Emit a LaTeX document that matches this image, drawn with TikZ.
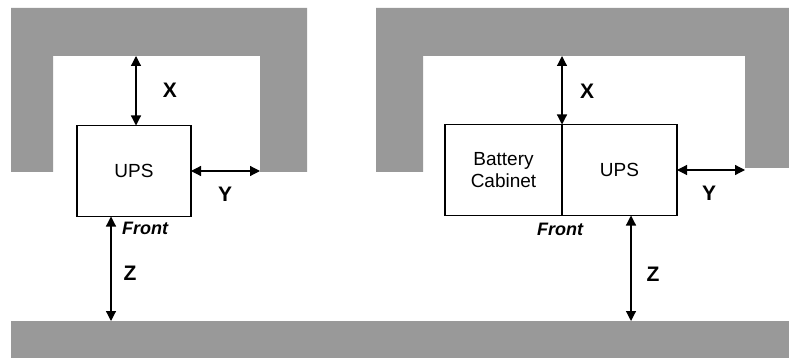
\documentclass[tikz,border=0pt]{standalone}
\usepackage{fontspec}
\setmainfont{Liberation Sans}
\usetikzlibrary{arrows.meta,positioning}
\definecolor{wallgray}{HTML}{999999}

\begin{document}
\begin{tikzpicture}[x=1pt, y=-1pt,
  font=\fontsize{19}{22}\selectfont,
  wall/.style={fill=wallgray, draw=none},
  unit/.style={draw, line width=1.5pt, minimum height=91pt, inner sep=0pt, outer sep=0pt, align=center},
  dim/.style={{Triangle[length=10pt,width=10pt]}-{Triangle[length=10pt,width=10pt]}, line width=1.2pt},
  dimlabel/.style={font=\fontsize{21}{24}\selectfont\bfseries},
  frontlabel/.style={font=\fontsize{18}{20}\selectfont\bfseries\itshape}
]
\useasboundingbox (0,0) rectangle (789,358);
% walls
\fill[wall] (11,8) -- (307,8) -- (307,172) -- (260,172) -- (260,56) -- (53,56) -- (53,172) -- (11,172) -- cycle;
\fill[wall] (376,8) -- (789,8) -- (789,168) -- (745,168) -- (745,56) -- (423,56) -- (423,172) -- (376,172) -- cycle;
\fill[wall] (11,321) rectangle (789,358);
\coordinate (wallL) at (136,56);
\coordinate (sideL) at (260,172);
\coordinate (floorL) at (111,321);
\coordinate (wallR) at (562,56);
\coordinate (sideR) at (745,171);
\coordinate (floorR) at (631,321);
% units
\node[unit, minimum width=114pt] (ups1) at (134,171) {UPS};
\node[unit, minimum width=117pt] (batt) at (503.5,170) {Battery\\Cabinet};
\node[unit, minimum width=115pt, right=0pt of batt] (ups2) {UPS};
% clearances
\draw[dim] (wallL) -- (wallL |- ups1.north);
\draw[dim] (ups1.east) -- (ups1.east -| sideL);
\draw[dim] (ups1.south -| floorL) -- (floorL);
\draw[dim] (wallR) -- (batt.north east);
\draw[dim] (ups2.east) -- (ups2.east -| sideR);
\draw[dim] (ups2.south -| floorR) -- (floorR);
\node[dimlabel] (xL) at (170,90) {X};
\node[dimlabel] (yL) at (225,194) {Y};
\node[dimlabel] (zL) at (130,273) {Z};
\node[dimlabel] (xR) at (587,91) {X};
\node[dimlabel] (yR) at (709,193) {Y};
\node[dimlabel] (zR) at (653,274) {Z};
\node[frontlabel] (frontL) at (145,228) {Front};
\node[frontlabel] (frontR) at (560,229) {Front};
\end{tikzpicture}
\end{document}
